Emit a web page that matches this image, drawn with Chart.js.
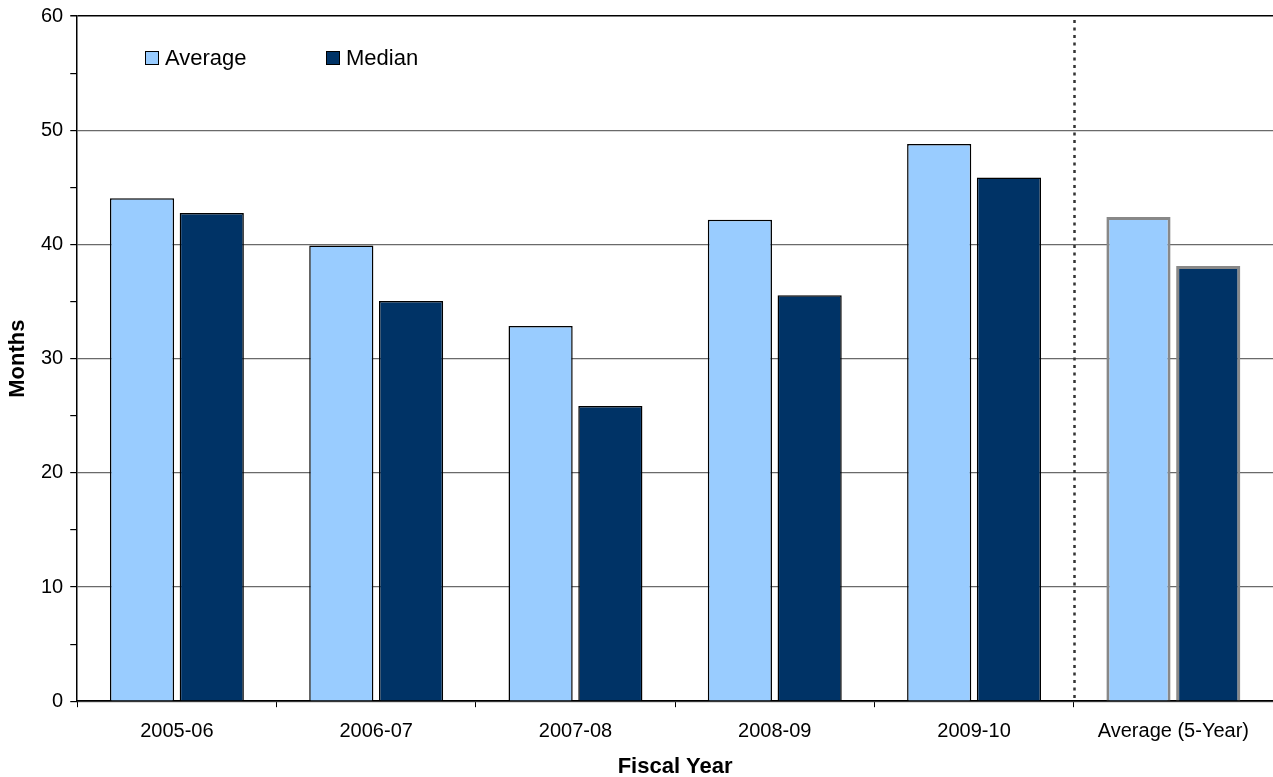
<!DOCTYPE html>
<html>
<head>
<meta charset="utf-8">
<script src="https://cdn.jsdelivr.net/npm/chart.js@4"></script>
<style>
  html, body { margin: 0; padding: 0; background: #fff; }
  #wrap { width: 1273px; height: 777px; position: relative; }
</style>
</head>
<body>
<div id="wrap"><canvas id="monthsChart"></canvas></div>
<script>
const fiscalYears = ["2005-06", "2006-07", "2007-08", "2008-09", "2009-10", "Average (5-Year)"];
const averageMonths = [44.05, 39.9, 32.85, 42.15, 48.8, 42.4];
const medianMonths = [42.75, 35.05, 25.85, 35.55, 45.85, 38.1];
const yTicks = [0, 10, 20, 30, 40, 50, 60];

const FONT = "'Liberation Sans', Arial, sans-serif";
const lastIdx = fiscalYears.length - 1;

// summary bars get a grey outline, the yearly ones a thin black one
const edgeColors = fiscalYears.map((_, i) => i === lastIdx ? '#888888' : '#000000');
const edgeWidths = fiscalYears.map((_, i) => i === lastIdx ? 3 : 1.5);

// legend sits inside the plot, top-left
const insideLegend = {
  id: 'insideLegend',
  afterDraw(chart) {
    const c = chart.ctx;
    const items = [
      { x: 145, label: chart.data.datasets[0].label, color: chart.data.datasets[0].backgroundColor },
      { x: 326, label: chart.data.datasets[1].label, color: chart.data.datasets[1].backgroundColor }
    ];
    c.save();
    c.font = '22px ' + FONT;
    c.textBaseline = 'middle';
    items.forEach(it => {
      c.fillStyle = it.color;
      c.fillRect(it.x, 51, 14, 14);
      c.strokeStyle = '#000';
      c.lineWidth = 1;
      c.strokeRect(it.x + 0.5, 51.5, 13, 13);
      c.fillStyle = '#000';
      c.fillText(it.label, it.x + 20, 59);
    });
    c.restore();
  }
};

// dotted divider between the yearly bars and the 5-year average
const divider = {
  id: 'divider',
  beforeDatasetsDraw(chart) {
    const { ctx, chartArea, scales } = chart;
    const x = Math.round(scales.x.getPixelForValue(lastIdx - 0.5)) + 0.5;
    ctx.save();
    ctx.strokeStyle = '#333333';
    ctx.lineWidth = 2.5;
    ctx.setLineDash([3, 4.5]);
    ctx.beginPath();
    ctx.moveTo(x, chartArea.top + 4);
    ctx.lineTo(x, chartArea.bottom);
    ctx.stroke();
    ctx.restore();
  }
};

new Chart(document.getElementById('monthsChart'), {
  type: 'bar',
  data: {
    labels: fiscalYears,
    datasets: [
      { label: 'Average', data: averageMonths, backgroundColor: '#99CCFF',
        borderColor: edgeColors, borderWidth: edgeWidths, borderSkipped: 'bottom' },
      { label: 'Median', data: medianMonths, backgroundColor: '#003366',
        borderColor: edgeColors, borderWidth: edgeWidths, borderSkipped: 'bottom' }
    ]
  },
  options: {
    responsive: true,
    maintainAspectRatio: false,
    animation: false,
    layout: { padding: { top: 0, right: 0, left: 7, bottom: 0 } },
    datasets: { bar: { categoryPercentage: 0.70, barPercentage: 0.92 } },
    plugins: { legend: { display: false }, tooltip: { enabled: false } },
    scales: {
      x: {
        grid: {
          offset: true,
          drawOnChartArea: false,
          color: 'rgba(0,0,0,0)',
          tickColor: '#000',
          tickWidth: 1,
          tickLength: 6
        },
        border: { color: '#000', width: 1.5 },
        ticks: { color: '#000', font: { family: FONT, size: 20 }, padding: 12, maxRotation: 0 },
        title: { display: true, text: 'Fiscal Year', color: '#000',
                 font: { family: FONT, size: 22, weight: 'bold', lineHeight: 0.9 },
                 padding: { top: 2, bottom: 0 } }
      },
      y: {
        min: 0,
        max: 60,
        afterBuildTicks: axis => {
          // minor marks every 5, labels only on the main steps
          const t = [];
          for (let v = 0; v <= 60; v += 5) t.push({ value: v });
          axis.ticks = t;
        },
        grid: {
          color: ctx => {
            const v = ctx.tick ? ctx.tick.value : 0;
            if (v === 60) return '#000';
            return yTicks.includes(v) ? '#6a6a6a' : 'rgba(0,0,0,0)';
          },
          lineWidth: ctx => (ctx.tick && ctx.tick.value === 60) ? 1.5 : 1.2,
          tickColor: '#000',
          tickLength: 7
        },
        border: { color: '#000', width: 1.5 },
        ticks: {
          color: '#000',
          font: { family: FONT, size: 20, lineHeight: 0.9 },
          padding: 7,
          callback: v => yTicks.includes(v) ? v : ''
        },
        title: { display: true, text: 'Months', color: '#000',
                 font: { family: FONT, size: 22, weight: 'bold', lineHeight: 1.0 },
                 padding: { top: 0, bottom: 5 } }
      }
    }
  },
  plugins: [divider, insideLegend]
});
</script>
</body>
</html>
